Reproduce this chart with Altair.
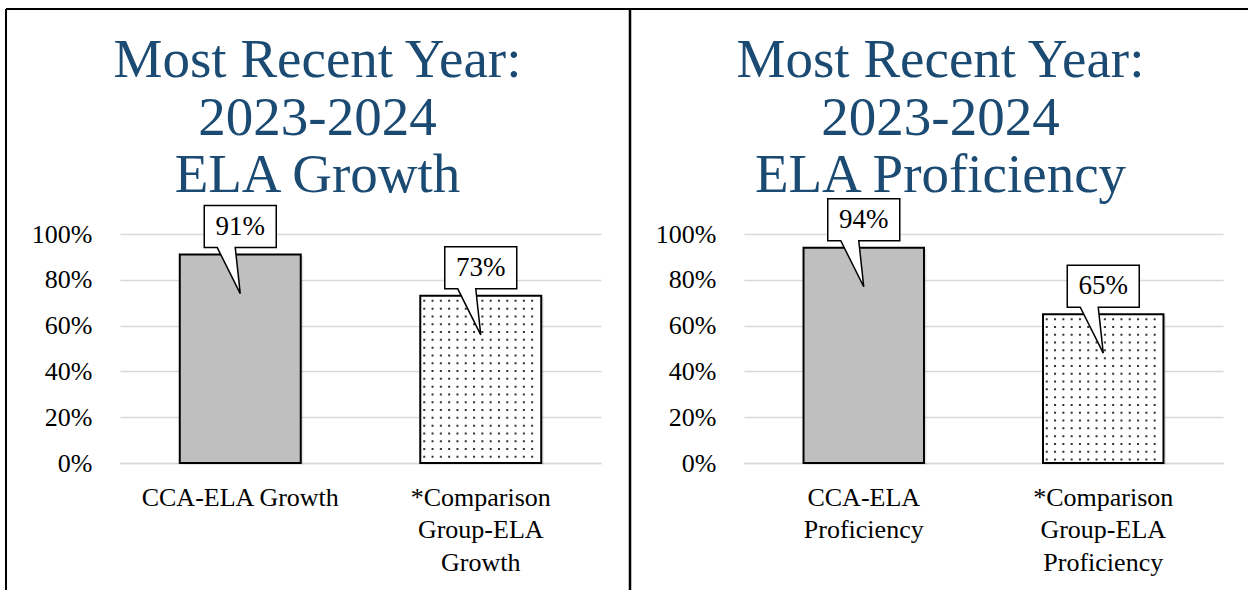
import altair as alt
import pandas as pd

# ---- data ----
growth_label_lines = [["CCA-ELA Growth"], ["*Comparison", "Group-ELA", "Growth"]]
growth_values = [0.91, 0.73]
prof_label_lines = [["CCA-ELA", "Proficiency"], ["*Comparison", "Group-ELA", "Proficiency"]]
prof_values = [0.94, 0.65]
bar_patterns = ["solid", "dots"]
growth_title = ["Most Recent Year:", "2023-2024", "ELA Growth"]
prof_title = ["Most Recent Year:", "2023-2024", "ELA Proficiency"]
y_ticks = [0, 0.2, 0.4, 0.6, 0.8, 1.0]

FONT = "Liberation Serif"
TITLE_COLOR = "#1B4A72"
CALLOUT_PATH = "M-0.72,-1.76L0.72,-1.76L0.72,-0.92L-0.1,-0.92L0,0L-0.46,-0.92L-0.72,-0.92Z"


def panel(label_lines, values, title_lines, width, frame=False):
    cats = ["\n".join(l) for l in label_lines]
    df = pd.DataFrame({"category": cats, "value": values, "pattern": bar_patterns})
    base = alt.Chart(df)
    x = alt.X(
        "category:N",
        sort=cats,
        scale=alt.Scale(paddingInner=0, paddingOuter=0),
        axis=alt.Axis(
            title=None, labelAngle=0, labelFont=FONT, labelFontSize=26,
            labelColor="black", labelPadding=21, labelLineHeight=32.5,
            labelLimit=0,
            ticks=False, domain=True, domainColor="#d9d9d9", domainWidth=1.5,
            grid=False, labelExpr="split(datum.label, '\\n')",
        ),
    )
    y = alt.Y(
        "value:Q",
        scale=alt.Scale(domain=[0, 1], nice=False),
        axis=alt.Axis(
            title=None, format=".0%", values=y_ticks, labelFont=FONT,
            labelFontSize=26, labelColor="black", labelPadding=28,
            ticks=False, domain=False, gridColor="#d9d9d9", gridWidth=1.5,
        ),
    )
    shadow = base.mark_bar(
        width={"band": 0.503}, color="black", opacity=0.10, xOffset=2.5, yOffset=1.5
    ).encode(x=x, y=y)
    bars = base.mark_bar(
        width={"band": 0.503}, stroke="black", strokeWidth=2
    ).encode(
        x=x, y=y,
        fill=alt.Fill("pattern:N", scale=alt.Scale(domain=["solid", "dots"], range=["#bfbfbf", "white"]), legend=None),
    )
    dots = [
        base.mark_rule(
            stroke="#333333", strokeWidth=2, strokeDash=[2, 5.8], strokeDashOffset=3.8,
            xOffset=-56.5 + k * 8.3,
        ).encode(x=x, y=y, y2=alt.datum(0)).transform_filter(alt.datum.pattern == "dots")
        for k in range(14)
    ]
    callout = base.mark_point(
        shape=CALLOUT_PATH, size=10000, filled=True, fill="white", stroke="black",
        strokeWidth=1.5, opacity=1, fillOpacity=1, strokeOpacity=1, yOffset=39,
    ).encode(x=x, y=y)
    text = base.mark_text(
        font=FONT, fontSize=27, color="black", dy=-28, baseline="middle"
    ).encode(x=x, y=y, text=alt.Text("value:Q", format=".0%"))

    title_data = alt.Data(values=[{"title": "\n".join(title_lines)}])
    title = alt.Chart(title_data).mark_text(
        font=FONT, fontSize=55, color=TITLE_COLOR, lineHeight=57.5,
        lineBreak="\n", align="center", baseline="alphabetic",
    ).encode(text="title:N", x=alt.value(width / 2 - 43), y=alt.value(-157))

    layers = [shadow, bars] + dots + [callout, text, title]
    if frame:
        deco = alt.Chart(alt.Data(values=[{"k": 1}]))
        top = deco.mark_rule(color="black", strokeWidth=2).encode(
            x=alt.value(-114), x2=alt.value(1128), y=alt.value(-225))
        left = deco.mark_rule(color="black", strokeWidth=2).encode(
            x=alt.value(-114), y=alt.value(-225), y2=alt.value(356))
        divider = deco.mark_rule(color="black", strokeWidth=2.5).encode(
            x=alt.value(510), y=alt.value(-225), y2=alt.value(356))
        layers = [top, left, divider] + layers
    return alt.layer(*layers).properties(width=width, height=229)


left_panel = panel(growth_label_lines, growth_values, growth_title, 481, frame=True)
right_panel = panel(prof_label_lines, prof_values, prof_title, 479)

chart = alt.hconcat(left_panel, right_panel, spacing=143, bounds="flush").properties(
    padding={"left": 5, "top": 7, "right": 0, "bottom": 0}
).configure_view(stroke=None).resolve_scale(x="independent")

chart.save("out.html", embed_options={"renderer": "svg", "actions": False})
